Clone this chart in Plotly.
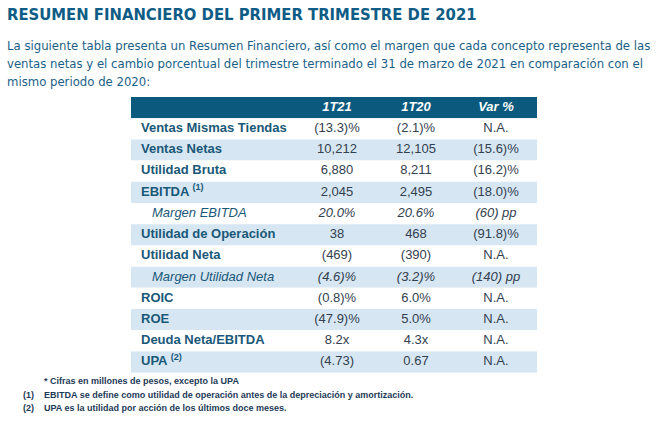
import plotly.graph_objects as go

TITLE = "RESUMEN FINANCIERO DEL PRIMER TRIMESTRE DE 2021"
INTRO = [
    "La siguiente tabla presenta un Resumen Financiero, así como el margen que cada concepto representa de las",
    "ventas netas y el cambio porcentual del trimestre terminado el 31 de marzo de 2021 en comparación con el",
    "mismo periodo de 2020:",
]

headers = ["1T21", "1T20", "Var %"]
conceptos = [
    "Ventas Mismas Tiendas", "Ventas Netas", "Utilidad Bruta", "EBITDA <sup>(1)</sup>",
    "Margen EBITDA", "Utilidad de Operación", "Utilidad Neta", "Margen Utilidad Neta",
    "ROIC", "ROE", "Deuda Neta/EBITDA", "UPA <sup>(2)</sup>",
]
es_margen = [False, False, False, False, True, False, False, True, False, False, False, False]
t21 = ["(13.3)%", "10,212", "6,880", "2,045", "20.0%", "38", "(469)", "(4.6)%",
       "(0.8)%", "(47.9)%", "8.2x", "(4.73)"]
t20 = ["(2.1)%", "12,105", "8,211", "2,495", "20.6%", "468", "(390)", "(3.2)%",
       "6.0%", "5.0%", "4.3x", "0.67"]
var = ["N.A.", "(15.6)%", "(16.2)%", "(18.0)%", "(60) pp", "(91.8)%", "N.A.", "(140) pp",
       "N.A.", "N.A.", "N.A.", "N.A."]
notas = [
    ("", "* Cifras en millones de pesos, excepto la UPA"),
    ("(1)", "EBITDA se define como utilidad de operación antes de la depreciación y amortización."),
    ("(2)", "UPA es la utilidad por acción de los últimos doce meses."),
]

DARK = "#0b5a7e"
STRIPE = "#d6e6f3"
LABEL = "#1a5878"
VALUE = "#33414f"
NOTE = "#1d3a57"
NARROW = "DejaVu Sans Condensed, Liberation Sans Narrow, sans-serif"
ARIAL = "Liberation Sans, Arial, sans-serif"

W, H = 672, 424


def fx(x):
    return x / W


def fy(y):
    return 1 - y / H


# table columns, in pixels from the left edge of the table
TABLE_W = 406
LABEL_X = 10
MARGIN_X = 21
COL_X = [206, 285, 365]

n = len(conceptos)
rows = list(range(n + 1))  # row 0 is the header
row_colors = [DARK] + [STRIPE if i % 2 else "white" for i in range(n)]

fig = go.Figure()
fig.add_trace(
    go.Bar(
        y=rows, x=[TABLE_W] * len(rows), base=0, orientation="h", width=1,
        marker=dict(color=row_colors, line=dict(width=0)), hoverinfo="skip",
    )
)
fig.add_trace(
    go.Scatter(
        x=COL_X, y=[0] * 3, mode="text", text=["<b><i>" + h + "</i></b>" for h in headers],
        textposition="middle center", hoverinfo="skip",
        textfont=dict(family=ARIAL, size=13, color="white"),
    )
)
fig.add_trace(
    go.Scatter(
        x=[MARGIN_X if m else LABEL_X for m in es_margen],
        y=rows[1:], mode="text",
        text=["<i>" + c + "</i>" if m else "<b>" + c + "</b>" for c, m in zip(conceptos, es_margen)],
        textposition="middle right", hoverinfo="skip",
        textfont=dict(family=ARIAL, size=13, color=LABEL),
    )
)
for cx, col in zip(COL_X, [t21, t20, var]):
    fig.add_trace(
        go.Scatter(
            x=[cx] * n, y=rows[1:], mode="text",
            text=["<i>" + v + "</i>" if m else v for v, m in zip(col, es_margen)],
            textposition="middle center", hoverinfo="skip",
            textfont=dict(family=ARIAL, size=13, color=VALUE),
        )
    )

fig.add_annotation(
    text="<b>" + TITLE + "</b>", x=fx(5), y=fy(14), xref="paper", yref="paper",
    xanchor="left", yanchor="middle", showarrow=False,
    font=dict(family=NARROW, size=16.5, color="#0f5d86"),
)
for i, linea in enumerate(INTRO):
    fig.add_annotation(
        text=linea, x=fx(5), y=fy(45 + 18 * i), xref="paper", yref="paper",
        xanchor="left", yanchor="middle", showarrow=False,
        font=dict(family=NARROW, size=13, color="#1b5f88"),
    )
for i, (num, txt) in enumerate(notas):
    yy = fy(381 + 13.5 * i)
    if num:
        fig.add_annotation(
            text="<b>" + num + "</b>", x=fx(21), y=yy, xref="paper", yref="paper",
            xanchor="left", yanchor="middle", showarrow=False,
            font=dict(family=ARIAL, size=9, color=NOTE),
        )
    fig.add_annotation(
        text="<b>" + txt + "</b>", x=fx(42), y=yy,
        xref="paper", yref="paper", xanchor="left", yanchor="middle", showarrow=False,
        font=dict(family=ARIAL, size=9, color=NOTE),
    )

fig.update_layout(
    width=W, height=H, margin=dict(l=0, r=0, t=0, b=0),
    paper_bgcolor="white", plot_bgcolor="white", showlegend=False,
    xaxis=dict(range=[0, TABLE_W], domain=[fx(131), fx(537)], visible=False, fixedrange=True),
    yaxis=dict(range=[n + 0.5, -0.5], domain=[fy(372.7), fy(97)], visible=False, fixedrange=True),
)
# drop the page's default body margin so the figure sits in the window corner
fig.write_html(
    "out.html",
    config={"displayModeBar": False},
    post_script="document.body.style.margin = '0';",
)
